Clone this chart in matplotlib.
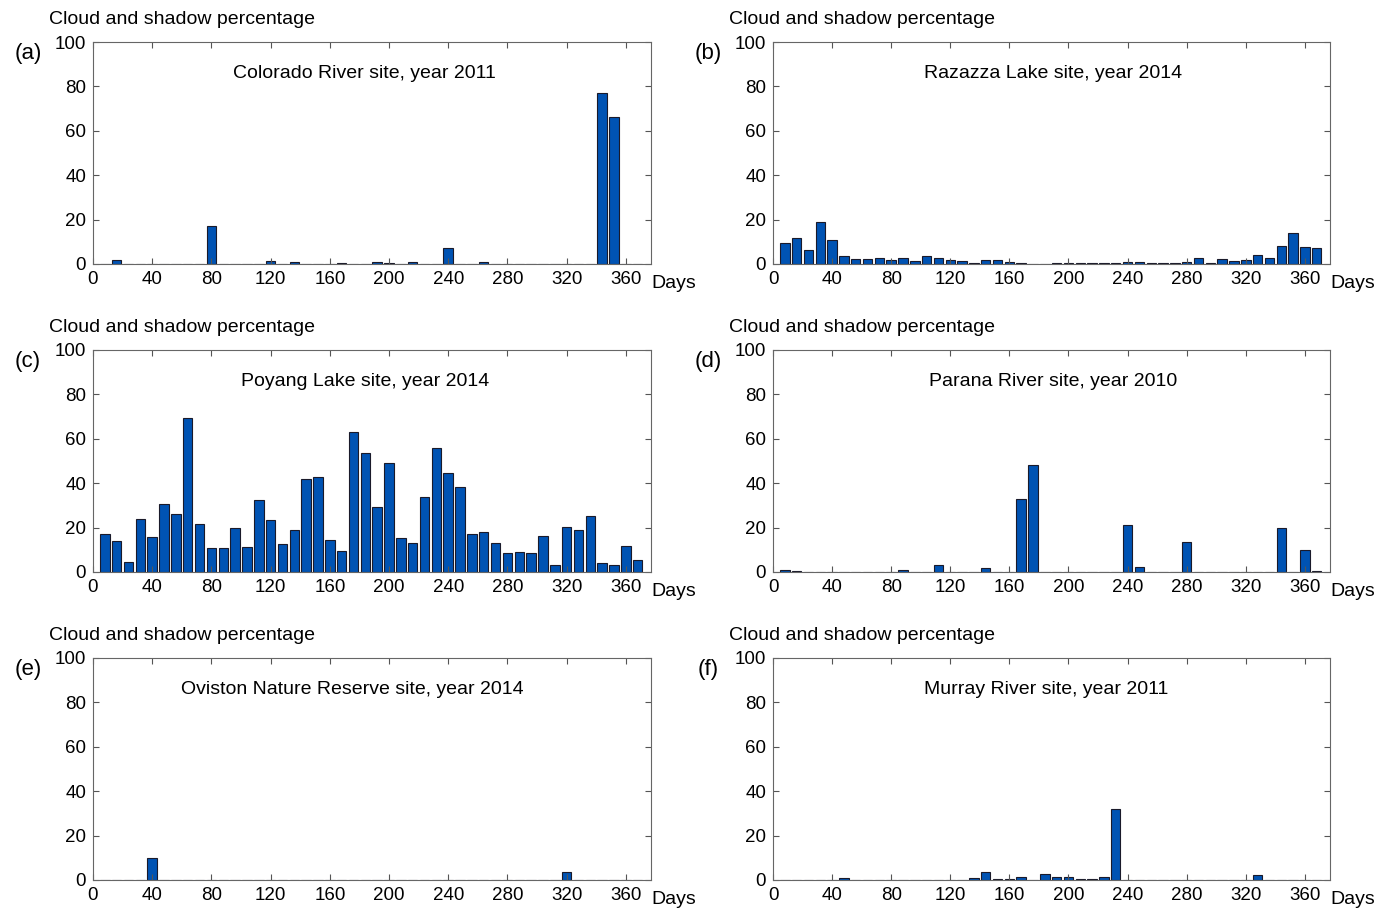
import numpy as np
import matplotlib
matplotlib.use('Agg')
import matplotlib.pyplot as plt

plt.rcParams['font.family'] = ['Liberation Sans', 'DejaVu Sans']

# 8-day composites, 46 per year
days = np.arange(1, 47) * 8

# cloud and shadow percentage per composite
colorado_2011 = [0, 1.7, 0, 0, 0, 0, 0, 0, 0, 17.0,
                 0, 0, 0, 0, 1.4, 0, 0.8, 0, 0, 0,
                 0.6, 0, 0, 0.8, 0.3, 0, 1.0, 0, 0, 7.0,
                 0, 0, 0.8, 0, 0, 0, 0, 0, 0, 0,
                 0, 0, 76.9, 66.0, 0, 0]
razazza_2014 = [9.4, 11.8, 6.4, 18.9, 10.8, 3.6, 2.1, 2.1, 2.7, 1.7,
                2.6, 1.5, 3.8, 2.9, 1.7, 1.2, 0.6, 1.7, 2.0, 1.1,
                0.5, 0.2, 0.1, 0.4, 0.3, 0.6, 0.6, 0.3, 0.3, 0.7,
                0.7, 0.6, 0.4, 0.3, 0.9, 2.7, 0.3, 2.4, 1.2, 1.8,
                3.9, 2.9, 8.3, 14.0, 7.6, 7.3]
poyang_2014 = [17.3, 13.9, 4.6, 23.9, 15.8, 30.6, 26.0, 69.5, 21.7, 10.8,
               10.8, 20.0, 11.1, 32.6, 23.2, 12.7, 19.1, 41.7, 42.8, 14.2,
               9.6, 62.9, 53.5, 29.3, 49.0, 15.5, 12.9, 33.6, 55.9, 44.8,
               38.1, 17.2, 18.1, 12.9, 8.5, 9.1, 8.4, 16.0, 3.3, 20.3,
               19.1, 25.1, 4.0, 3.0, 11.5, 5.4]
parana_2010 = [0.8, 0.6, 0, 0, 0, 0.2, 0, 0.2, 0, 0,
               1.1, 0, 0, 3.2, 0, 0, 0, 1.7, 0, 0,
               32.7, 48.4, 0, 0, 0, 0, 0, 0.2, 0, 21.0,
               2.1, 0, 0, 0.2, 13.7, 0, 0, 0, 0, 0,
               0, 0, 19.9, 0, 9.9, 0.3]
oviston_2014 = [0, 0, 0, 0, 10.1, 0, 0, 0, 0, 0,
                0, 0, 0, 0, 0, 0, 0, 0, 0, 0,
                0, 0, 0, 0, 0, 0, 0, 0, 0, 0,
                0, 0.2, 0, 0, 0, 0, 0, 0, 0, 3.5,
                0, 0, 0.2, 0, 0, 0]
murray_2011 = [0, 0, 0, 0, 0, 0.9, 0, 0, 0, 0,
               0, 0, 0, 0, 0, 0, 0.8, 3.5, 0.6, 0.5,
               1.2, 0.2, 2.6, 1.4, 1.2, 0.4, 0.4, 1.5, 31.8, 0,
               0.2, 0, 0, 0, 0, 0, 0, 0, 0, 0,
               2.3, 0, 0, 0.2, 0, 0]

series = [colorado_2011, razazza_2014, poyang_2014, parana_2010, oviston_2014, murray_2011]
titles = ['Colorado River site, year 2011', 'Razazza Lake site, year 2014',
          'Poyang Lake site, year 2014', 'Parana River site, year 2010',
          'Oviston Nature Reserve site, year 2014', 'Murray River site, year 2011']
letters = ['(a)', '(b)', '(c)', '(d)', '(e)', '(f)']
title_x = [0.487, 0.503, 0.487, 0.503, 0.464, 0.490]  # not all centred in the original

W, H = 1394, 911
fig = plt.figure(figsize=(W / 100, H / 100), dpi=100)

# axes boxes in pixels: left, top, right, bottom
boxes = [(93, 42, 651, 264), (773, 42, 1330, 264),
         (93, 350, 651, 572), (773, 350, 1330, 572),
         (93, 658, 651, 880), (773, 658, 1330, 880)]

for i in range(6):
    l, t, r, b = boxes[i]
    ax = fig.add_axes([l / W, 1 - b / H, (r - l) / W, (b - t) / H])
    ax.bar(days, series[i], width=6.4, color='#0053b3', edgecolor='#1a1a2a', linewidth=0.8)
    ax.set_xlim(0, 377)
    ax.set_ylim(0, 100)
    ax.set_xticks(np.arange(0, 361, 40))
    ax.set_yticks(np.arange(0, 101, 20))
    ax.tick_params(direction='in', top=True, right=True, length=4, width=0.8,
                   color='#555555', labelsize=13.5, pad=5)
    for s in ax.spines.values():
        s.set_color('#666666')
        s.set_linewidth(0.8)
    ax.text(title_x[i], 0.86, titles[i], transform=ax.transAxes, ha='center', va='center', fontsize=14)
    ax.text(1.0, -0.09, 'Days', transform=ax.transAxes, ha='left', va='center', fontsize=14)

    # label above the y axis and panel letter
    fig.text((l - 44) / W, 1 - (t - 22) / H, 'Cloud and shadow percentage',
             ha='left', va='center', fontsize=14)
    fig.text((l - 65) / W, 1 - (t + 12) / H, letters[i], ha='center', va='center', fontsize=16)

plt.savefig('out.png', dpi=100)
